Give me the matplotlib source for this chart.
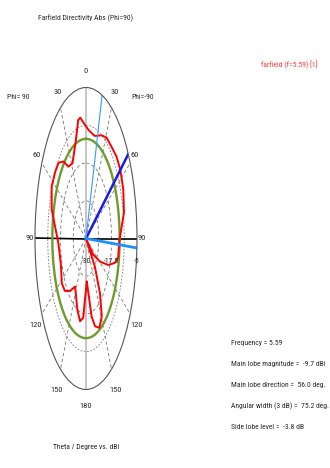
import numpy as np
import matplotlib
matplotlib.use('Agg')
import matplotlib.pyplot as plt

plt.rcParams['font.family'] = ['Roboto Condensed', 'Liberation Sans Narrow', 'DejaVu Sans Condensed',
                               'DejaVu Sans']

# farfield cut, theta measured from the top, clockwise = Phi=-90 side, counter-clockwise = Phi=90 side
theta = [-180, -177, -174, -168, -160, -153, -146, -138, -130, -122, -111, -103, -93,
         -83, -74, -63, -54, -47, -41, -36, -28, -17, -11, -8, -1.5, 4, 14, 24, 31,
         40, 48, 56, 66, 77, 87, 93, 101, 106, 112, 119, 127, 132, 137, 140, 143,
         149, 156, 163, 168, 171, 177, 180]
directivity = [-21.5, -19.8, -16.8, -16.0, -17.5, -19.3, -20.4, -18.3, -16.5, -16.0, -16.9,
               -16.9, -16.4, -14.8, -12.5, -11.1, -11.3, -11.6, -13.1, -15.3, -15.9, -13.0,
               -10.0, -9.8, -11.2, -12.0, -12.5, -11.3, -10.5, -10.3, -9.8, -9.7, -10.0,
               -10.9, -13.0, -13.8, -13.9, -15.3, -18.3, -22.1, -25.5, -30.0, -23.6, -21.8,
               -18.6, -15.0, -13.8, -14.8, -16.8, -19.8, -22.9, -21.5]

r_min, r_max = -30.0, -5.0
r_ticks = [-30, -17.5, -5]
ring_levels = [-23.75, -17.5, -11.25]
angle_ticks = [0, 30, 60, 90, 120, 150, 180]

freq = 5.59
main_mag = -9.7
main_dir = 56.0
width_3db = 75.2
side_lobe = -3.8

fs = 5.5
txt = '#2a2a2a'

fig = plt.figure(figsize=(3.3, 4.68), dpi=100)
ax = fig.add_axes([35 / 330, 1 - 389.5 / 468, 102 / 330, 302 / 468], projection='polar')
ax.set_theta_zero_location('N')
ax.set_theta_direction(-1)
ax.set_ylim(r_min, r_max)
ax.set_aspect('auto')
ax.set_xticks([])
ax.set_yticks([])
ax.grid(False)
ax.spines['polar'].set_color('#555555')
ax.spines['polar'].set_linewidth(0.8)

full = np.linspace(0, 2 * np.pi, 361)
for i, lvl in enumerate(ring_levels):
    ls = (0, (2, 2)) if i == 2 else (0, (4, 3))
    ax.plot(full, np.full_like(full, lvl), color='#777777', lw=0.6, ls=ls)
for a in [30, 60, 120, 150]:
    for s in (-1, 1):
        ax.plot([np.radians(s * a)] * 2, [r_min, r_max], color='#777777', lw=0.6, ls=(0, (4, 3)))
ax.plot([0, 0], [r_min, r_max], color='#bbbbbb', lw=1.2)
ax.plot([np.pi, np.pi], [r_min, r_max], color='#bbbbbb', lw=1.2)
ax.plot([np.pi / 2] * 2, [r_min, r_max], color='black', lw=1.2)
ax.plot([-np.pi / 2] * 2, [r_min, r_max], color='black', lw=1.2)

# side lobe reference level
ax.plot(full, np.full_like(full, main_mag + side_lobe), color='#6e9a2e', lw=1.7)

th = np.radians(theta)
ax.plot(th, np.clip(directivity, r_min, None), color='red', lw=1.4)

# main lobe and 3 dB beam edges
ax.plot([0, np.radians(main_dir)], [r_min, r_max], color='#1a1ae6', lw=1.8)
ax.plot([0, np.radians(main_dir - width_3db / 2)], [r_min, r_max], color='#3399ff', lw=0.8)
ax.plot([0, np.radians(main_dir + width_3db / 2)], [r_min, r_max], color='#1e8fff', lw=2.0)

lab_r = {0: -2.3, 30: -2.0, 60: -2.3, 90: -2.5, 120: -1.3, 150: -1.1, 180: -2.2}
for a in angle_ticks:
    for s in ((-1, 1) if a not in (0, 180) else (1,)):
        ax.text(np.radians(s * a), lab_r[a], str(a), ha='center', va='center',
                fontsize=fs + 0.5, color=txt)
for rt in r_ticks:
    ax.annotate(str(rt).replace('.0', ''), (np.pi / 2, rt), xytext=(0, -16),
                textcoords='offset points', ha='center', va='center', fontsize=fs, color=txt)

fig.text(86 / 330, 1 - 18 / 468, 'Farfield Directivity Abs (Phi=90)', ha='center', va='center',
         fontsize=fs, color=txt)
fig.text(18 / 330, 1 - 97 / 468, 'Phi= 90', ha='center', va='center', fontsize=fs, color=txt)
fig.text(143 / 330, 1 - 97 / 468, 'Phi=-90', ha='center', va='center', fontsize=fs, color=txt)
fig.text(86 / 330, 1 - 447 / 468, 'Theta / Degree vs. dBi', ha='center', va='center',
         fontsize=fs, color=txt)
fig.text(289 / 330, 1 - 65 / 468, f'farfield (f={freq}) [1]', ha='center', va='center',
         fontsize=fs, color='#ff3c3c')

info = [f'Frequency = {freq}',
        f'Main lobe magnitude =  {main_mag} dBi',
        f'Main lobe direction =  {main_dir} deg.',
        f'Angular width (3 dB) =  {width_3db} deg.',
        f'Side lobe level =  {side_lobe} dB']
for i, line in enumerate(info):
    fig.text(231 / 330, 1 - (343 + 21 * i) / 468, line, ha='left', va='center',
             fontsize=fs, color=txt)

fig.savefig('out.png', dpi=100, facecolor='white')
